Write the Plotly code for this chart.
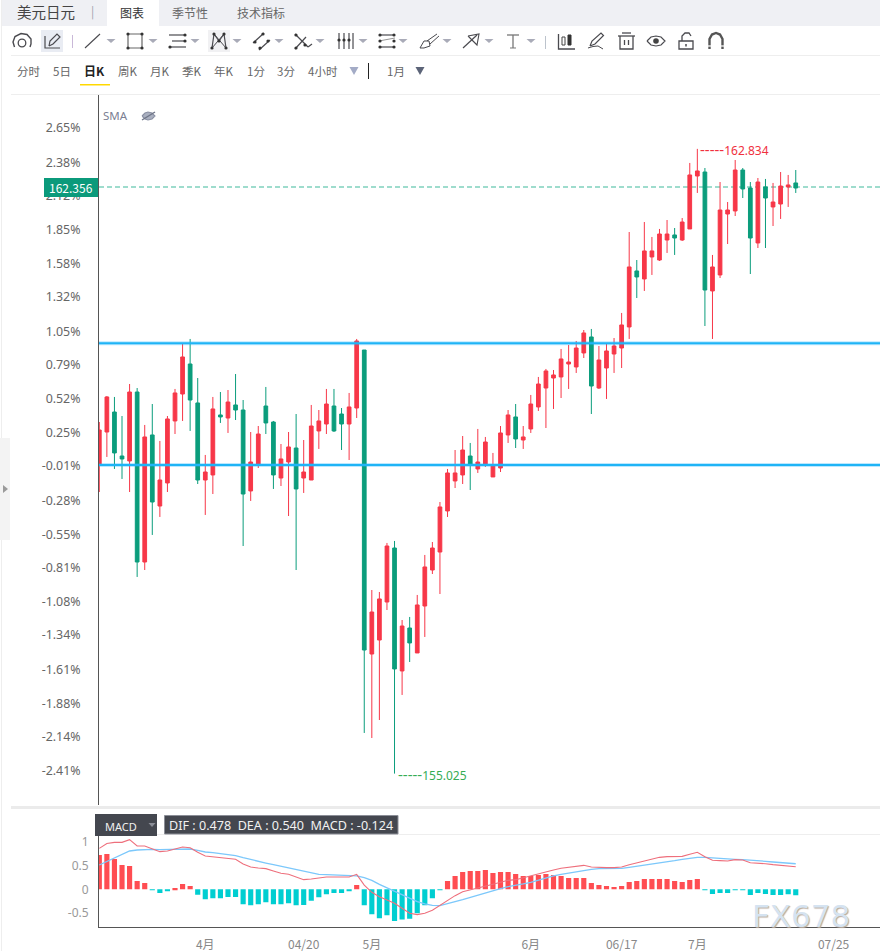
import plotly.graph_objects as go
from plotly.subplots import make_subplots

W, H = 880, 951

highs = [159.42,159.745,159.733,159.495,159.895,159.845,159.383,159.645,159.183,159.495,
         159.833,160.395,160.458,159.97,159.008,159.733,159.795,159.82,160.02,159.695,
         159.295,159.37,159.858,159.433,159.145,159.295,159.52,159.195,159.633,159.57,
         159.833,159.833,159.595,159.783,160.458,160.32,157.32,157.295,157.908,157.933,
         156.945,156.983,157.258,157.758,157.92,158.42,158.833,159.07,159.245,159.158,
         159.333,159.233,159.033,159.37,159.57,159.645,159.37,159.758,159.983,160.083,
         160.07,160.333,160.383,160.433,160.57,160.583,160.37,160.395,160.47,160.783,
         161.795,161.445,161.92,161.733,161.833,161.945,161.845,161.97,162.658,162.834,
         162.595,161.508,162.42,162.17,162.695,162.595,162.42,162.47,162.458,162.408,
         162.545,162.508,162.57]
lows = [158.545,158.983,158.833,158.708,158.545,157.483,157.57,158.008,158.233,158.545,
        159.27,159.433,159.308,158.645,158.258,158.52,159.408,159.283,159.445,157.87,
        158.433,158.845,159.27,158.583,158.62,158.245,157.57,158.533,158.695,159.083,
        159.27,159.295,159.07,158.945,159.47,155.533,155.47,155.695,157.07,155.025,
        156.008,156.42,156.533,156.733,157.52,157.27,158.233,158.595,158.645,158.57,
        158.783,158.858,158.733,158.795,159.158,159.095,159.083,159.283,159.558,159.345,
        159.583,159.72,159.833,160.033,160.22,159.52,159.833,159.708,160.033,160.095,
        160.458,160.97,161.058,161.258,161.433,161.533,161.508,161.683,161.833,162.283,
        160.62,160.458,161.22,161.645,161.995,162.22,161.27,161.595,161.595,161.87,
        161.958,162.108,162.283]
opens = [158.88,159.295,159.545,158.995,158.933,159.795,157.67,159.258,158.37,158.658,
         159.433,159.77,160.145,159.658,158.695,158.758,159.508,159.47,159.633,159.57,
         158.558,158.895,159.62,159.42,158.72,158.92,159.095,158.72,158.695,159.308,
         159.395,159.62,159.52,159.395,159.595,160.32,156.52,156.695,157.17,157.845,
         156.308,156.845,156.533,157.12,157.57,157.795,158.308,158.683,158.758,158.995,
         158.833,158.895,158.733,158.845,159.258,159.483,159.195,159.333,159.608,159.845,
         159.97,159.983,160.145,160.108,160.283,160.483,159.845,160.095,160.27,160.345,
         160.608,161.308,161.208,161.483,161.445,161.695,161.758,161.695,161.833,162.495,
         162.545,161.058,161.258,162.02,162.058,162.57,162.345,161.658,162.358,162.108,
         162.145,162.358,162.408]
closes = [159.32,159.733,159.033,158.958,159.795,157.67,159.233,158.42,158.695,159.458,
          159.783,160.233,159.695,158.695,158.795,159.583,159.483,159.67,159.57,158.52,
          158.92,159.27,159.408,158.758,158.958,159.108,158.583,158.795,159.37,159.433,
          159.645,159.308,159.395,159.608,160.433,156.57,157.045,157.208,157.87,156.333,
          156.87,156.658,157.133,157.608,157.845,158.358,158.783,158.783,159.07,158.883,
          158.92,159.17,158.883,159.283,159.508,159.208,159.233,159.645,159.895,160.058,
          160.008,160.208,160.17,160.345,160.533,159.87,160.195,160.308,160.37,160.633,
          161.358,161.233,161.558,161.558,161.77,161.77,161.72,161.92,162.508,162.558,
          161.07,161.358,162.07,162.07,162.57,162.333,161.72,162.42,162.22,162.17,
          162.37,162.383,162.345]
candle_index = list(range(len(opens)))

macd_hist = [.725,.746,.64,.514,.493,.176,.134,-.002,-.077,-.04,.03,.113,.07,-.113,-.21,-.19,-.19,-.16,-.16,
             -.317,-.338,-.317,-.275,-.317,-.317,-.296,-.338,-.331,-.24,-.17,-.106,-.077,-.077,-.042,.09,
             -.338,-.528,-.613,-.55,-.669,-.64,-.62,-.507,-.338,-.19,-.01,
             .176,.282,.366,.387,.387,.408,.345,.366,.366,.324,.282,.282,.303,.324,.303,.282,.239,.239,.239,
             .134,.092,.07,.05,.07,.155,.176,.218,.218,.218,.218,.176,.155,.197,.218,-.005,
             -.099,-.077,-.077,-.02,-.02,-.12,-.077,-.099,-.12,-.12,-.106,-.124]
dif = [.866,.97,.993,.993,1.05,.915,.915,.852,.796,.81,.845,.894,.88,.782,.704,.69,.669,.655,.634,.535,
       .472,.45,.437,.387,.338,.317,.268,.204,.218,.239,.26,.26,.254,.26,.317,.09,-.063,-.155,-.225,-.296,
       -.40,-.507,-.535,-.507,-.444,-.34,-.246,-.134,-.05,-.007,.035,.07,.106,.148,.19,.204,.246,.282,.338,
       .38,.408,.444,.465,.486,.507,.472,.458,.458,.458,.472,.521,.556,.6,.634,.676,.69,.69,.697,.74,.782,
       .69,.613,.606,.6,.627,.62,.563,.556,.542,.521,.507,.493,.478]
dea = [.514,.585,.655,.74,.81,.831,.845,.845,.838,.838,.838,.845,.852,.824,.789,.775,.754,.732,.711,.669,
       .627,.592,.556,.521,.486,.451,.415,.373,.345,.317,.31,.303,.296,.289,.282,.246,.19,.106,.035,-.035,
       -.106,-.19,-.26,-.31,-.338,-.345,-.31,-.26,-.218,-.169,-.12,-.07,-.028,.014,.056,.092,.113,.148,.197,
       .239,.282,.317,.345,.38,.408,.423,.437,.437,.444,.444,.465,.486,.507,.535,.563,.585,.606,.634,.655,.676,
       .676,.662,.655,.641,.634,.627,.62,.606,.592,.577,.563,.549,.54]

pct_labels = [2.65,2.38,2.12,1.85,1.58,1.32,1.05,.79,.52,.25,-.01,-.28,-.55,-.81,-1.08,-1.34,-1.61,-1.88,-2.14,-2.41]
base_price = 158.886
date_ticks = [14, 27, 36, 57, 69, 79, 97]
date_labels = ["4月", "04/20", "5月", "6月", "06/17", "7月", "07/25"]
macd_ticks = [1, 0.5, 0, -0.5]
macd_labels = ["1", "0.5", "0", "-0.5"]
level_lines = [160.403, 158.883]
last_price = 162.356
high_price, high_i = 162.834, 79
low_price, low_i = 155.025, 39

RED, GREEN = "#f73748", "#0b9d7c"
CJK = "Noto Sans CJK SC"
ICON = "#4a4a4f"

def PX(x): return x / W
def PY(y): return 1 - y / H

fig = make_subplots(rows=2, cols=1)
fig.add_trace(go.Candlestick(
    x=candle_index, open=opens, high=highs, low=lows, close=closes,
    increasing=dict(line=dict(color=RED, width=1), fillcolor=RED),
    decreasing=dict(line=dict(color=GREEN, width=1), fillcolor=GREEN),
    whiskerwidth=0, showlegend=False), row=1, col=1)
fig.add_trace(go.Bar(x=candle_index, y=macd_hist, width=0.68,
                     marker=dict(color=["#ff4d52" if v >= 0 else "#00ced1" for v in macd_hist], line_width=0),
                     showlegend=False), row=2, col=1)
fig.add_trace(go.Scatter(x=candle_index, y=dea, mode="lines", line=dict(color="#7cc8fb", width=1.3), showlegend=False), row=2, col=1)
fig.add_trace(go.Scatter(x=candle_index, y=dif, mode="lines", line=dict(color="#ee6f7c", width=1.1), showlegend=False), row=2, col=1)

shapes, annos = [], []

def poly(points, color=ICON, width=1.3, closed=False, fill=None, layer="above"):
    d = "M" + " L".join(f"{PX(x):.5f},{PY(y):.5f}" for x, y in points) + (" Z" if closed else "")
    shapes.append(dict(type="path", path=d, xref="paper", yref="paper", layer=layer,
                       line=dict(color=color, width=width), fillcolor=fill or "rgba(0,0,0,0)"))

def rect(x0, y0, x1, y1, fill, line=None, layer="below"):
    shapes.append(dict(type="rect", xref="paper", yref="paper", x0=PX(x0), x1=PX(x1), y0=PY(y0), y1=PY(y1),
                       fillcolor=fill, line=dict(color=line or fill, width=1 if line else 0), layer=layer))

def circ(cx, cy, r, color=ICON, width=1.3, fill=None):
    shapes.append(dict(type="circle", xref="paper", yref="paper", x0=PX(cx-r), x1=PX(cx+r), y0=PY(cy-r), y1=PY(cy+r),
                       line=dict(color=color, width=width), fillcolor=fill or "rgba(0,0,0,0)"))

def dot(cx, cy, r=1.6, color="#333"):
    circ(cx, cy, r, color=color, width=0, fill=color)

def tri(cx, cy, color="#a9abb8", w=4.5, h=4):
    poly([(cx-w, cy-h/2), (cx+w, cy-h/2), (cx, cy+h/2)], color=color, width=0, closed=True, fill=color)

def text(x, y, s, size=12, color="#555", anchor="left", family=CJK, weight=None, shadow=None):
    f = dict(family=family, size=size, color=color)
    if weight: f["weight"] = weight
    if shadow: f["shadow"] = shadow
    annos.append(dict(x=PX(x), y=PY(y), xref="paper", yref="paper", text=s, showarrow=False,
                      xanchor=anchor, yanchor="middle", font=f, borderpad=0, borderwidth=0))

# page chrome
rect(2, 0, W, 26, "#eff0f4")
rect(107, 0, 159, 26, "#ffffff")
rect(1, 0, 2, H, "#eeeeee")
rect(0, 438, 10, 540, "#f3f3f3")
poly([(3, 485), (8, 489), (3, 493)], color="#9a9a9a", width=0, closed=True, fill="#9a9a9a")
rect(11, 55, W, 56, "#eeeeee")
rect(11, 94, W, 95, "#eeeeee")
rect(11, 806, W, 809, "#ebebeb")
rect(99, 834, W, 835, "#eeeeee")
rect(80, 84, 110, 85.5, "#ffd800")
rect(41, 30, 63, 52, "#e9ecf3")
rect(208, 30, 230, 52, "#f1f1f3")

text(17, 11, "美元日元", 14.5, "#444")
text(92, 11, "|", 12, "#9aa0ad", "center")
text(120, 12, "图表", 12, "#333")
text(172, 12, "季节性", 12, "#666")
text(237, 12, "技术指标", 12, "#666")
for x, s in [(17, "分时"), (53, "5日"), (118, "周K"), (150, "月K"), (182, "季K"), (214, "年K"),
             (247, "1分"), (277, "3分"), (308, "4小时"), (387, "1月")]:
    text(x, 71, s, 11.5, "#666")
text(84, 71, "日K", 12, "#222", weight=700)
tri(354, 71, "#a3abc6", 4.5, 8)
tri(420, 71, "#5c6478", 4.5, 8)
rect(368, 63, 369, 79, "#222222")

# toolbar icons
circ(22, 43, 3.8)
poly([(14.5, 47), (13, 42), (15, 36.5), (21, 33.5), (27, 34.5), (31, 39), (31, 44), (30, 47)], width=1.4)
poly([(49, 46), (50, 41), (57, 34), (60, 37), (53, 44), (49, 46)], width=1.2)
poly([(45, 36), (45, 48), (60, 48)], width=1.2)
rect(72, 35, 73, 48, "#c9b8d8")
poly([(85, 48), (100, 34)], width=1.1)
for x in [111, 153, 195, 237, 279, 320, 363, 403, 447, 489, 531]:
    tri(x, 41)
poly([(128, 34), (142, 34), (142, 48), (128, 48)], closed=True, color="#666", width=1.2)
for p in [(128, 34), (142, 34), (142, 48), (128, 48)]: dot(*p)
for y, x0, x1 in [(35, 169, 186), (41, 172, 186), (47, 169, 186)]:
    poly([(x0, y), (x1, y)], width=1.2)
dot(185, 35); dot(185, 41); dot(170, 47)
poly([(212, 48), (214, 34), (219, 41), (224, 34), (226, 48)], width=1.2)
poly([(214, 34), (226, 48)], width=1.0); poly([(224, 34), (212, 48)], width=1.0)
for p in [(212, 48), (214, 34), (224, 34), (226, 48), (219, 41)]: dot(*p)
poly([(253, 43), (264, 33)], width=1.2); poly([(259, 50), (270, 40)], width=1.2)
dot(255, 42); dot(263, 34); dot(260, 48); dot(268, 41)
poly([(295, 34), (308, 47)], width=1.2); poly([(295, 49), (306, 37)], width=1.2); poly([(308, 47), (312, 44)], width=1.2)
dot(296, 35); dot(296, 48); dot(305, 45)
for x in [339, 344, 349, 353]:
    poly([(x, 33), (x, 49)], width=1.2)
dot(339, 40); dot(344, 40); dot(349, 40)
poly([(379, 35), (395, 35)], width=1.2); poly([(379, 47), (395, 47)], width=1.2)
poly([(379, 41), (395, 38)], color="#888", width=0.9)
dot(380, 35); dot(394, 35); dot(380, 41); dot(394, 41); dot(380, 47); dot(394, 47)
poly([(420, 48), (424, 41), (429, 41), (430, 46), (424, 48), (420, 48)], width=1)
poly([(427, 41), (437, 34)], width=1); poly([(430, 44), (439, 36)], width=1)
poly([(463, 48), (477, 35)], width=1.2)
poly([(468, 36), (479, 34), (477, 45), (473, 41), (468, 36)], width=1.1)
poly([(507, 35), (519, 35)], color="#777", width=1.3); poly([(513, 35), (513, 48)], color="#777", width=1.3)
poly([(510, 48), (516, 48)], color="#777", width=1)
rect(545, 36, 546, 49, "#bcc3cc")
poly([(558.5, 34), (558.5, 49), (575, 49)], width=1.3)
rect(562, 37, 565, 45, "#ffffff", "#444", "above")
rect(568, 35, 571, 45, "#333333", "#333", "above")
poly([(590, 46), (592, 41), (601, 33), (603.5, 35.5), (595, 44), (590, 46)], width=1.2)
poly([(588, 48), (593, 46.5), (598, 46), (603, 49)], width=1)
poly([(618, 36), (635, 36)], width=1.3); poly([(622, 33), (631, 33)], width=1.3)
poly([(620, 36), (620, 49), (633, 49), (633, 36)], width=1.3)
poly([(624.5, 40), (624.5, 45)], width=1.3); poly([(628.5, 40), (628.5, 45)], width=1.3)
poly([(647, 41), (651, 37), (656, 36), (661, 37), (665, 41), (661, 45), (656, 46), (651, 45), (647, 41)], width=1.2)
dot(656, 41, 2.8, "#444")
poly([(679, 41), (693, 41), (693, 49), (679, 49)], closed=True, width=1.3)
poly([(682, 41), (682, 36), (685, 33), (689, 33), (691, 36)], width=1.3)
poly([(686, 44), (686, 46.5)], width=1.5)
poly([(709.5, 49), (709.5, 39), (712, 34.5), (716, 33), (720, 34.5), (722.5, 39), (722.5, 49)], width=2.4, color="#555")
poly([(708, 46), (712, 46)], width=1.2, color="#ffffff"); poly([(721, 46), (725, 46)], width=1.2, color="#ffffff")

# SMA label and crossed-eye icon
text(103, 115, "SMA", 11.5, "#7b8093", family="Noto Sans")
poly([(142, 116), (145, 113), (148, 112), (152, 113), (155, 116), (152, 119), (148, 120), (145, 119), (142, 116)],
     color="#8a90a3", width=1.1, fill="#aab0c0")
poly([(142, 120), (155, 112)], color="#6f7587", width=1.4)

# MACD header
rect(95, 814, 157, 836, "#44474f", layer="above")
text(105, 826, "MACD", 11, "#f0f0f0", family="Noto Sans")
tri(152, 825, "#8b8e97", 3.5, 4)
rect(164.5, 815.5, 398, 834, "#44474f", "#8b8e97", "above")
text(169, 825, "DIF : 0.478\u00a0\u00a0DEA : 0.540\u00a0\u00a0MACD : -0.124", 12.6, "#f2f2f2", family="Noto Sans")

# levels on the price axis
for lv in level_lines:
    for w, c in [(4, "rgba(30,180,255,0.30)"), (2, "#1fb4f6")]:
        shapes.append(dict(type="line", xref="paper", yref="y", x0=PX(99), x1=1, y0=lv, y1=lv, line=dict(color=c, width=w), layer="above"))
shapes.append(dict(type="line", xref="paper", yref="y", x0=PX(99), x1=1, y0=last_price, y1=last_price,
                   line=dict(color="#7fd1bd", width=1.5, dash="5px,3px"), layer="below"))

# last-price tag
rect(44, 178, 98, 197, "#0b9a7b", layer="above")
text(49, 187.5, f"{last_price:.3f}", 12, "#ffffff")

dash_run = '<span style="font-size:15px">-----</span>'
annos.append(dict(x=high_i, y=high_price, xref="x", yref="y", text=f"{dash_run}{high_price:.3f}", showarrow=False,
                  xanchor="left", yanchor="middle", xshift=1, font=dict(family="Noto Sans", size=12, color="#f0303e")))
annos.append(dict(x=low_i, y=low_price, xref="x", yref="y", text=f"{dash_run}{low_price:.3f}", showarrow=False,
                  xanchor="left", yanchor="middle", xshift=1, font=dict(family="Noto Sans", size=12, color="#36ac55")))
text(752, 916, "FX678", 31, "#d5e3f1", family="DejaVu Sans", shadow="1px 1px 1px #b9aa9c")

fig.update_layout(
    width=W, height=H, margin=dict(l=0, r=0, t=0, b=0), autosize=False,
    paper_bgcolor="white", plot_bgcolor="white", boxgap=0.3, bargap=0.3, barmode="overlay",
    shapes=shapes, annotations=annos, hovermode=False, dragmode=False,
    xaxis=dict(automargin=False, domain=[PX(99), 1], range=[-0.04, 103.13], showgrid=False, zeroline=False, showticklabels=False,
               rangeslider=dict(visible=False), ticks=""),
    yaxis=dict(automargin=False, domain=[PY(805), PY(95)], range=[154.6325, 163.5075], showgrid=False, zeroline=False, showline=True,
               linecolor="#555", linewidth=1, tickmode="array",
               tickvals=[base_price * (1 + p / 100) for p in pct_labels], ticktext=[f"{p:.2f}%" for p in pct_labels],
               ticks="outside", ticklen=15, tickcolor="rgba(0,0,0,0)", tickfont=dict(family="Noto Sans", size=12.4, color="#666")),
    xaxis2=dict(automargin=False, domain=[PX(99), 1], range=[-0.04, 103.13], showgrid=False, zeroline=False, showline=True, linecolor="#555", linewidth=1,
                tickmode="array", tickvals=date_ticks, ticktext=date_labels, ticks="outside", ticklen=6,
                tickcolor="rgba(0,0,0,0)", tickfont=dict(family=CJK, size=12, color="#888")),
    yaxis2=dict(automargin=False, domain=[PY(927.3), PY(834.3)], range=[-0.803, 1.163], showgrid=False, zeroline=False, showline=True,
                linecolor="#555", linewidth=1, tickmode="array", tickvals=macd_ticks, ticktext=macd_labels,
                ticks="outside", ticklen=7, tickcolor="rgba(0,0,0,0)", tickfont=dict(family="Noto Sans", size=12, color="#999")),
)

fig.write_html("out.html", config={"displayModeBar": False},
               post_script="document.body.style.margin='0';document.documentElement.style.overflow='hidden';")
